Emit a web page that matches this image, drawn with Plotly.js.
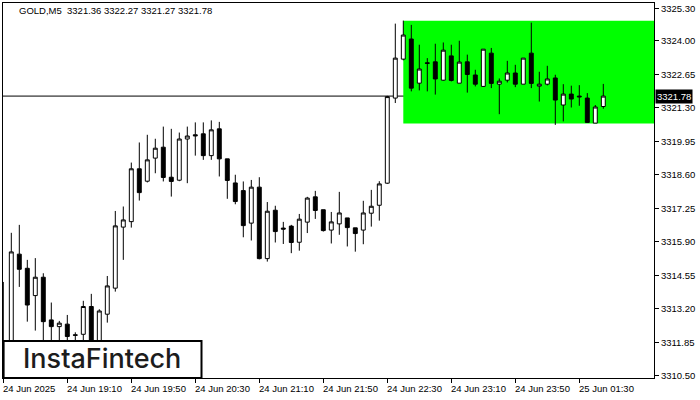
<!DOCTYPE html>
<html>
<head>
<meta charset="utf-8">
<script src="https://cdn.plot.ly/plotly-3.0.1.min.js"></script>
<style>html,body{margin:0;padding:0;background:#fff;}#chart{width:700px;height:400px;}</style>
</head>
<body>
<div id="chart"></div>
<script>
// ---- Data (GOLD, M5) ----
const openPrices = [3311.80,3311.60,3315.41,3314.84,3313.74,3314.48,3312.76,3312.49,3312.59,3312.16,
  3312.18,3313.30,3311.70,3312.99,3314.04,3316.50,3316.72,3318.85,3318.35,3319.28,
  3319.72,3318.51,3318.39,3320.05,3320.22,3320.26,3319.38,3320.46,3319.25,3318.28,
  3317.97,3316.66,3318.11,3315.23,3317.18,3316.46,3316.54,3315.89,3316.70,3317.72,
  3317.20,3316.38,3316.63,3316.87,3316.47,3316.38,3317.06,3317.38,3318.27,3321.70,
  3323.27,3324.08,3322.30,3323.12,3323.16,3322.42,3323.40,3322.30,3323.16,3322.63,
  3322.17,3323.51,3322.26,3322.42,3322.71,3322.26,3323.51,3322.18,3322.26,3322.51,
  3321.42,3321.86,3321.78,3321.70,3320.69,3321.36];
const highPrices = [3314.29,3316.27,3316.59,3315.18,3315.25,3314.64,3313.46,3312.72,3312.96,3312.26,
  3313.53,3313.81,3313.19,3314.53,3317.15,3317.33,3319.10,3319.91,3320.22,3320.06,
  3320.55,3320.46,3320.31,3320.55,3320.72,3320.72,3320.80,3320.74,3319.25,3318.61,
  3318.34,3318.40,3318.51,3317.51,3317.36,3316.71,3316.59,3317.03,3317.72,3317.96,
  3317.20,3317.11,3317.92,3316.87,3316.47,3317.56,3318.00,3318.35,3321.79,3324.70,
  3324.82,3324.65,3323.85,3323.31,3323.89,3323.94,3323.85,3324.01,3323.45,3322.84,
  3323.67,3323.72,3322.49,3323.20,3323.04,3323.31,3324.74,3322.76,3323.00,3322.64,
  3322.26,3322.20,3322.22,3321.90,3321.42,3322.27];
const lowPrices = [3310.70,3311.30,3314.09,3312.69,3312.33,3311.70,3311.80,3311.80,3311.80,3311.80,
  3311.80,3311.40,3311.50,3312.65,3313.90,3315.18,3316.48,3317.57,3318.30,3318.67,
  3318.34,3317.73,3318.35,3318.27,3319.38,3319.21,3319.21,3318.54,3317.64,3317.42,
  3316.09,3315.96,3315.20,3315.11,3315.88,3315.82,3315.45,3315.55,3316.26,3316.83,
  3316.32,3315.84,3316.19,3315.72,3315.51,3315.81,3316.52,3316.76,3318.24,3321.50,
  3323.22,3321.97,3322.01,3321.97,3321.84,3322.40,3322.37,3322.30,3321.92,3322.17,
  3322.15,3322.10,3321.05,3322.33,3322.14,3322.26,3322.10,3321.56,3322.21,3320.62,
  3320.76,3321.32,3321.39,3320.72,3320.69,3321.27];
const closePrices = [3311.00,3315.50,3314.80,3313.36,3314.48,3312.69,3312.49,3312.63,3312.09,3312.14,
  3313.30,3311.70,3313.12,3314.13,3316.55,3316.79,3318.85,3317.89,3319.21,3319.68,
  3318.50,3318.34,3320.05,3320.17,3320.18,3319.38,3320.42,3319.25,3318.38,3317.53,
  3316.56,3318.11,3315.23,3317.14,3316.32,3316.42,3315.88,3316.82,3317.67,3317.17,
  3316.36,3316.71,3317.07,3316.48,3316.24,3317.07,3317.34,3318.24,3321.76,3323.31,
  3324.24,3322.10,3322.87,3323.10,3322.47,3323.63,3322.41,3323.15,3322.65,3322.26,
  3323.67,3322.29,3322.38,3322.71,3322.26,3323.31,3322.29,3322.26,3322.47,3321.62,
  3321.86,3321.66,3321.75,3320.72,3321.34,3321.78];

const timeTickIndex = [0, 8, 16, 24, 32, 40, 48, 56, 64, 72];
const timeTickLabels = ["24 Jun 2025","24 Jun 19:10","24 Jun 19:50","24 Jun 20:30","24 Jun 21:10",
  "24 Jun 21:50","24 Jun 22:30","24 Jun 23:10","24 Jun 23:50","25 Jun 01:30"];
const priceTicks = [3310.50,3311.85,3313.20,3314.55,3315.90,3317.25,3318.60,3319.95,3321.30,3322.65,3324.00,3325.30];
const priceTickLabels = ["3310.50","3311.85","3313.20","3314.55","3315.90","3317.25","3318.60","3319.95","3321.30","3322.65","3324.00","3325.30"];

const symbolTitle = "GOLD,M5\u00a0\u00a03321.36 3322.27 3321.27 3321.78";
const bidPrice = 3321.78;
const zoneStartIndex = 50;
const zoneTop = 3324.82;
const zoneBottom = 3320.68;
const logoText = "InstaFintech";

// ---- Build ----
const idx = openPrices.map((_, i) => i);
const xRange = [-0.0375, 81.3375];
const yRange = [3310.419, 3325.531];
const tickFont = {family: "Liberation Sans, Arial, sans-serif", size: 9.5, color: "#000"};

const trace = {
  type: "candlestick",
  x: idx, open: openPrices, high: highPrices, low: lowPrices, close: closePrices,
  increasing: {line: {color: "#000", width: 1}, fillcolor: "#ffffff"},
  decreasing: {line: {color: "#000", width: 1}, fillcolor: "#000000"},
  whiskerwidth: 0,
  hoverinfo: "skip",
  showlegend: false
};

const annotations = [];
timeTickIndex.forEach((v, k) => {
  annotations.push({x: v, xref: "x", y: 0, yref: "paper", yanchor: "top", xanchor: "left",
    yshift: -3, xshift: -2, text: timeTickLabels[k], showarrow: false, font: tickFont});
});
annotations.push({x: 14/651, xref: "paper", y: (378-10.5)/375, yref: "paper", xanchor: "left", yanchor: "middle",
  text: symbolTitle, showarrow: false, font: tickFont});
annotations.push({x: 1, xref: "paper", y: bidPrice, yref: "y", xanchor: "left", yanchor: "middle",
  xshift: 1, text: bidPrice.toFixed(2), showarrow: false, bgcolor: "#000", borderpad: 1,
  font: {family: "Liberation Sans, Arial, sans-serif", size: 9.5, color: "#fff"}});
annotations.push({x: (102-3)/651, xref: "paper", y: (378-358.5)/375, yref: "paper", xanchor: "center", yanchor: "middle",
  text: logoText, showarrow: false, font: {family: "Inter, Lato, sans-serif", size: 27, color: "#1c1c1c", weight: 500}});

const shapes = [
  {type: "rect", xref: "x", yref: "y", x0: zoneStartIndex, x1: xRange[1], y0: zoneBottom, y1: zoneTop,
    fillcolor: "#00ff00", line: {width: 0}, layer: "below"},
  {type: "line", xref: "paper", yref: "y", x0: 0, x1: 1, y0: bidPrice, y1: bidPrice,
    line: {color: "#000", width: 1}, layer: "below"},
  {type: "rect", xref: "paper", yref: "paper", x0: 0.6/651, x1: (201.5-3)/651, y0: 0, y1: (378-341)/375,
    fillcolor: "#ffffff", line: {color: "#000", width: 2}, layer: "above"}
];

const layout = {
  width: 700, height: 400,
  margin: {l: 3, r: 46, t: 3, b: 22, pad: 0},
  paper_bgcolor: "#ffffff", plot_bgcolor: "#ffffff",
  showlegend: false,
  xaxis: {type: "linear", range: xRange, tickvals: timeTickIndex, showticklabels: false,
    ticks: "outside", ticklen: 4, tickcolor: "#000", tickwidth: 1,
    showgrid: false, zeroline: false, showline: true, linecolor: "#000", linewidth: 1, mirror: true,
    rangeslider: {visible: false}, fixedrange: true},
  yaxis: {side: "right", range: yRange, tickvals: priceTicks, ticktext: priceTickLabels,
    ticks: "outside", ticklen: 4, tickcolor: "#000", tickwidth: 1, tickfont: tickFont,
    showgrid: false, zeroline: false, showline: true, linecolor: "#000", linewidth: 1, mirror: true,
    fixedrange: true},
  shapes: shapes,
  annotations: annotations
};

Plotly.newPlot("chart", [trace], layout, {displayModeBar: false, staticPlot: true});
</script>
</body>
</html>
